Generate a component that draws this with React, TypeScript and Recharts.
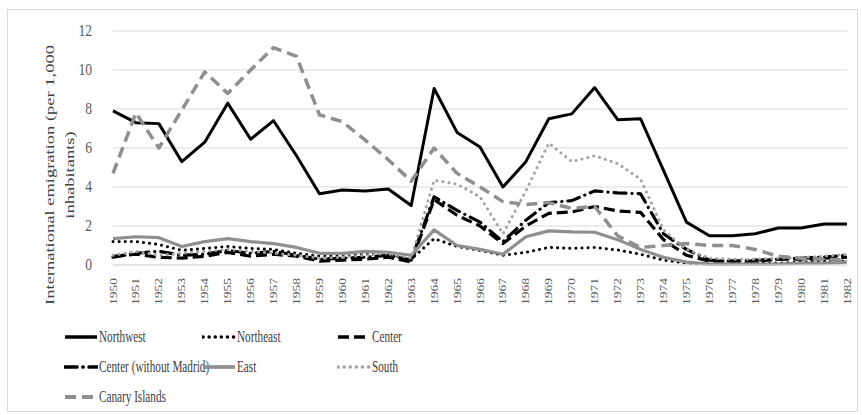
import React from "react";
import { LineChart, Line, XAxis, YAxis, CartesianGrid, Legend } from "recharts";

// Years on the category axis
const years = [
  "1950", "1951", "1952", "1953", "1954", "1955", "1956", "1957", "1958", "1959",
  "1960", "1961", "1962", "1963", "1964", "1965", "1966", "1967", "1968", "1969",
  "1970", "1971", "1972", "1973", "1974", "1975", "1976", "1977", "1978", "1979",
  "1980", "1981", "1982",
];

// International emigration per 1,000 inhabitants, by region
const northwest = [
  7.9, 7.3, 7.25, 5.3, 6.3, 8.3, 6.45, 7.4, 5.6, 3.65,
  3.85, 3.8, 3.9, 3.05, 9.05, 6.8, 6.05, 4.0, 5.3, 7.5,
  7.75, 9.1, 7.45, 7.5, 4.85, 2.2, 1.5, 1.5, 1.6, 1.9,
  1.9, 2.1, 2.1,
];
const northeast = [
  1.2, 1.2, 1.05, 0.75, 0.85, 0.95, 0.85, 0.8, 0.6, 0.45,
  0.45, 0.55, 0.55, 0.3, 1.35, 0.95, 0.75, 0.5, 0.65, 0.9,
  0.85, 0.9, 0.77, 0.55, 0.25, 0.1, 0.05, 0.05, 0.1, 0.1,
  0.15, 0.2, 0.2,
];
const center = [
  0.45, 0.55, 0.4, 0.35, 0.45, 0.65, 0.45, 0.55, 0.45, 0.2,
  0.25, 0.3, 0.4, 0.15, 3.35, 2.55, 2.0, 1.1, 2.0, 2.65,
  2.72, 3.0, 2.77, 2.7, 1.3, 0.5, 0.2, 0.2, 0.2, 0.3,
  0.3, 0.35, 0.4,
];
const centerWithoutMadrid = [
  0.4, 0.6, 0.7, 0.5, 0.55, 0.75, 0.6, 0.7, 0.5, 0.3,
  0.35, 0.4, 0.5, 0.25, 3.5, 2.8, 2.2, 1.2, 2.3, 3.2,
  3.3, 3.8, 3.7, 3.65, 1.6, 0.8, 0.25, 0.2, 0.25, 0.3,
  0.35, 0.4, 0.5,
];
const east = [
  1.35, 1.45, 1.4, 0.95, 1.2, 1.35, 1.2, 1.1, 0.9, 0.6,
  0.6, 0.7, 0.65, 0.5, 1.8, 1.0, 0.8, 0.55, 1.45, 1.75,
  1.7, 1.68, 1.3, 0.8, 0.4, 0.15, 0.05, 0.05, 0.05, 0.05,
  0.1, 0.1, 0.15,
];
const south = [
  0.5, 0.7, 0.5, 0.6, 0.7, 0.8, 0.7, 0.6, 0.5, 0.35,
  0.4, 0.5, 0.6, 0.35, 4.35, 4.15, 3.5, 1.6, 3.8, 6.25,
  5.3, 5.6, 5.2, 4.4, 1.8, 0.8, 0.35, 0.3, 0.3, 0.35,
  0.4, 0.45, 0.55,
];
const canaryIslands = [
  4.7, 7.8, 6.0, 7.95, 9.9, 8.8, 10.0, 11.15, 10.7, 7.7,
  7.35, 6.4, 5.4, 4.3, 6.0, 4.7, 4.0, 3.25, 3.1, 3.2,
  2.9, 3.0, 1.5, 0.9, 1.0, 1.1, 1.0, 1.0, 0.8, 0.45,
  0.35, 0.3, 0.25,
];

const yTicks = [0, 2, 4, 6, 8, 10, 12];

const data = years.map((year, i) => ({
  year,
  northwest: northwest[i],
  northeast: northeast[i],
  center: center[i],
  centerWithoutMadrid: centerWithoutMadrid[i],
  east: east[i],
  south: south[i],
  canaryIslands: canaryIslands[i],
}));

const BLACK = "#000000";
const GRAY = "#8f8f8f";
const LIGHT_GRAY = "#a3a3a3";
const FONT = "'Liberation Serif', 'Times New Roman', serif";

type SeriesStyle = {
  key: string;
  name: string;
  color: string;
  width: number;
  dash?: string;
  cap?: "round" | "butt";
};

const series: SeriesStyle[] = [
  { key: "northwest", name: "Northwest", color: BLACK, width: 3 },
  { key: "northeast", name: "Northeast", color: BLACK, width: 3, dash: "0.1 6", cap: "round" },
  { key: "center", name: "Center", color: BLACK, width: 3.2, dash: "11 5" },
  { key: "centerWithoutMadrid", name: "Center (without Madrid)", color: BLACK, width: 3.2, dash: "12 6 0.1 6", cap: "round" },
  { key: "east", name: "East", color: GRAY, width: 3.2 },
  { key: "south", name: "South", color: LIGHT_GRAY, width: 3, dash: "0.1 6", cap: "round" },
  { key: "canaryIslands", name: "Canary Islands", color: GRAY, width: 3.5, dash: "11 6" },
];

// Legend laid out in three columns, wrapping into rows
const legendColumns = [64, 202, 337];

function LegendBlock() {
  return (
    <div style={{ position: "relative", width: 862, height: 90 }}>
      {series.map((s, i) => {
        const col = i % 3;
        const row = Math.floor(i / 3);
        const left = legendColumns[col];
        const top = row * 30;
        return (
          <div
            key={s.key}
            style={{
              position: "absolute",
              left,
              top,
              height: 20,
              display: "flex",
              alignItems: "center",
              whiteSpace: "nowrap",
            }}
          >
            <svg width={34} height={10} style={{ display: "block" }}>
              <line
                x1={1}
                y1={5}
                x2={33}
                y2={5}
                stroke={s.color}
                strokeWidth={s.width + 0.5}
                strokeDasharray={s.dash}
                strokeLinecap={s.cap ?? "butt"}
              />
            </svg>
            <span
              style={{
                display: "inline-block",
                fontFamily: FONT,
                fontSize: 16,
                color: "#404040",
                marginLeft: 1,
                transform: "scaleX(0.7)",
                transformOrigin: "left center",
              }}
            >
              {s.name}
            </span>
          </div>
        );
      })}
    </div>
  );
}

function YAxisTitle() {
  const cy = 175;
  const lines = [
    { x: 49, text: "International emigration (per 1,000" },
    { x: 69, text: "inhabitants)" },
  ];
  return (
    <g>
      {lines.map((l) => (
        <text
          key={l.text}
          x={0}
          y={0}
          transform={`translate(${l.x} ${cy}) scale(0.72 1) rotate(-90)`}
          textAnchor="middle"
          dominantBaseline="central"
          fontFamily={FONT}
          fontSize={18.5}
          fill="#404040"
        >
          {l.text}
        </text>
      ))}
    </g>
  );
}

function YearTick(props: any) {
  const { x, y, payload } = props;
  return (
    <text
      x={0}
      y={0}
      transform={`translate(${x} ${y}) scale(0.8 1) rotate(-90)`}
      textAnchor="end"
      dominantBaseline="central"
      fontFamily={FONT}
      fontSize={13.5}
      fill="#595959"
    >
      {payload.value}
    </text>
  );
}

function ValueTick(props: any) {
  const { x, y, payload } = props;
  return (
    <text
      x={0}
      y={0}
      transform={`translate(${x} ${y}) scale(0.85 1)`}
      textAnchor="end"
      dominantBaseline="central"
      fontFamily={FONT}
      fontSize={16}
      fill="#595959"
    >
      {payload.value}
    </text>
  );
}

export default function App() {
  return (
    <div
      style={{
        position: "absolute",
        left: 0,
        top: 0,
        width: 862,
        height: 415,
        background: "#ffffff",
      }}
    >
      <div
        style={{
          position: "absolute",
          left: 7,
          top: 9,
          width: 851,
          height: 403,
          border: "1px solid #d9d9d9",
          boxSizing: "border-box",
        }}
      />
      <LineChart
        width={862}
        height={415}
        data={data}
        margin={{ top: 31, right: 15, left: 73, bottom: 110 }}
        style={{ position: "absolute", left: 0, top: 0 }}
      >
        <CartesianGrid vertical={false} stroke="#d9d9d9" strokeWidth={1.2} />
        <XAxis
          dataKey="year"
          axisLine={{ stroke: "#d9d9d9" }}
          tickLine={false}
          interval={0}
          height={40}
          tick={<YearTick />}
          tickMargin={7}
        />
        <YAxis
          domain={[0, 12]}
          ticks={yTicks}
          axisLine={false}
          tickLine={false}
          width={40}
          tickMargin={15}
          tick={<ValueTick />}
          label={{ content: <YAxisTitle /> }}
        />
        {series.map((s) => (
          <Line
            key={s.key}
            type="linear"
            dataKey={s.key}
            name={s.name}
            stroke={s.color}
            strokeWidth={s.width}
            strokeDasharray={s.dash}
            strokeLinecap={s.cap ?? "butt"}
            strokeLinejoin="round"
            dot={false}
            activeDot={false}
            isAnimationActive={false}
          />
        ))}
        <Legend
          layout="horizontal"
          verticalAlign="middle"
          align="center"
          content={() => <LegendBlock />}
          wrapperStyle={{ position: "absolute", left: 0, top: 327, width: 862, height: 90 }}
        />
      </LineChart>
    </div>
  );
}
